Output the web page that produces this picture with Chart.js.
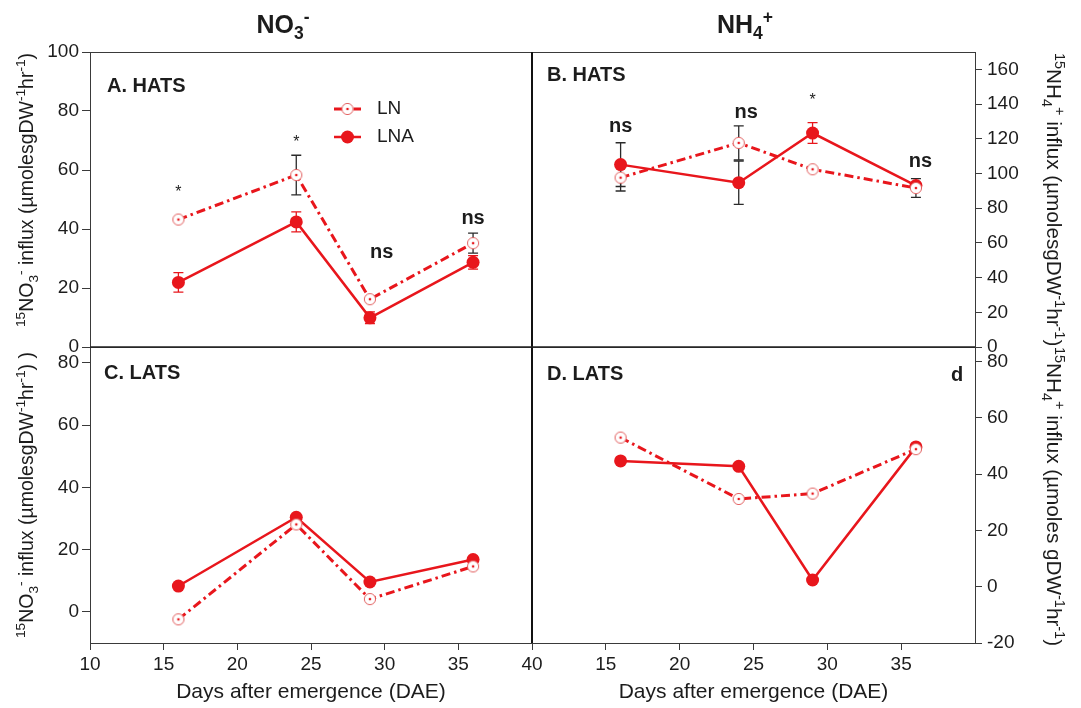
<!DOCTYPE html>
<html>
<head>
<meta charset="utf-8">
<script src="https://cdn.jsdelivr.net/npm/chart.js@4.4.1/dist/chart.umd.min.js"></script>
<style>
  body { margin: 0; background: #fff; }
  #wrap { position: relative; width: 1081px; height: 708px; }
  #wrap canvas { position: absolute; left: 0; top: 0; }
</style>
</head>
<body>
<div id="wrap">
  <canvas id="pA" width="1081" height="708"></canvas>
  <canvas id="pB" width="1081" height="708"></canvas>
  <canvas id="pC" width="1081" height="708"></canvas>
  <canvas id="pD" width="1081" height="708"></canvas>
</div>
<script>
// sampling days (DAE)
const days = [16, 24, 29, 36];

// A. HATS, NO3- influx
const hatsNo3LN = [43.2, 58.3, 16.2, 35.2];
const hatsNo3LNA = [21.9, 42.4, 9.9, 28.7];
const hatsNo3LNErr = [0, 6.7, 0, 3.4];
const hatsNo3LNAErr = [3.3, 3.4, 2.0, 2.3];
const hatsNo3Sig = ['*', '*', 'ns', 'ns'];
const hatsNo3SigX = [16, 24, 29.8, 36];
const hatsNo3SigY = [52.3, 69.3, 32.2, 43.6];

// B. HATS, NH4+ influx
const hatsNh4LN = [97.6, 117.6, 102.4, 91.6];
const hatsNh4LNA = [105.1, 94.7, 123.3, 93.0];
const hatsNh4LNErr = [7.7, 9.8, 0, 5.4];
const hatsNh4LNAErr = [12.6, 12.5, 6.0, 0];
const hatsNh4Sig = ['ns', 'ns', '*', 'ns'];
const hatsNh4SigX = [16, 24.5, 29, 36.3];
const hatsNh4SigY = [127.2, 135.1, 142.2, 107];

// C. LATS, NO3- influx
const latsNo3LN = [-2.4, 28.1, 4.1, 14.6];
const latsNo3LNA = [8.3, 30.4, 9.6, 16.8];

// D. LATS, NH4+ influx
const latsNh4LN = [53.0, 31.2, 33.1, 48.9];
const latsNh4LNA = [44.7, 42.8, 2.4, 49.7];

// tick labels
const hatsNo3Ticks = [0, 20, 40, 60, 80, 100];
const hatsNh4Ticks = [0, 20, 40, 60, 80, 100, 120, 140, 160];
const latsNo3Ticks = [0, 20, 40, 60, 80];
const latsNh4Ticks = [-20, 0, 20, 40, 60, 80];
const dayTicksLeft = [10, 15, 20, 25, 30, 35, 40];
const dayTicksRight = [15, 20, 25, 30, 35];

const FONT = "'Liberation Sans', Arial, sans-serif";
const RED = '#e8161c';
const INK = '#1c1c1c';
const AXIS = '#3a3a3a';
Chart.defaults.font.family = FONT;
Chart.defaults.color = INK;

// open circle with a centre dot, used for LN
const lnMarker = document.createElement('canvas');
lnMarker.width = 14; lnMarker.height = 14;
(() => {
  const c = lnMarker.getContext('2d');
  c.beginPath(); c.arc(7, 7, 5.6, 0, Math.PI * 2);
  c.fillStyle = '#fff'; c.fill();
  c.lineWidth = 1; c.strokeStyle = '#e26262'; c.stroke();
  c.beginPath(); c.arc(7, 7, 1.3, 0, Math.PI * 2);
  c.fillStyle = RED; c.fill();
})();

function fontFor(kind, size, bold) {
  const s = kind ? size * 0.7 : size;
  return (bold ? 'bold ' : '') + s + 'px ' + FONT;
}

// text with super/subscripts; parts = [[text, ''|'sup'|'sub'], ...]
function rich(ctx, parts, x, y, size, bold, align) {
  const widths = parts.map(([t, k]) => { ctx.font = fontFor(k, size, bold); return ctx.measureText(t).width; });
  const total = widths.reduce((a, b) => a + b, 0);
  let cx = align === 'center' ? x - total / 2 : x;
  ctx.textAlign = 'left';
  ctx.textBaseline = 'alphabetic';
  parts.forEach(([t, k], i) => {
    ctx.font = fontFor(k, size, bold);
    const dy = k === 'sup' ? -size * 0.4 : k === 'sub' ? size * 0.25 : 0;
    ctx.fillText(t, cx, y + dy);
    cx += widths[i];
  });
}

function richRotated(ctx, parts, x, y, angle, size) {
  ctx.save();
  ctx.translate(x, y);
  ctx.rotate(angle);
  ctx.fillStyle = INK;
  rich(ctx, parts, 0, 0, size, false, 'left');
  ctx.restore();
}

function label(ctx, text, x, y, font, align) {
  ctx.font = font;
  ctx.fillStyle = INK;
  ctx.textAlign = align || 'left';
  ctx.textBaseline = 'middle';
  ctx.fillText(text, x, y);
}

const no3Title = [['15', 'sup'], ['NO', ''], ['3', 'sub'], ['-', 'sup'], [' influx (µmolesgDW', ''], ['-1', 'sup'], ['hr', ''], ['-1', 'sup'], [')', '']];
const nh4TitleTop = [['15', 'sup'], ['NH', ''], ['4', 'sub'], ['+', 'sup'], [' influx (µmolesgDW', ''], ['-1', 'sup'], ['hr', ''], ['-1', 'sup'], [')', '']];
const nh4TitleBottom = [['15', 'sup'], ['NH', ''], ['4', 'sub'], ['+', 'sup'], [' influx (µmoles gDW', ''], ['-1', 'sup'], ['hr', ''], ['-1', 'sup'], [')', '']];

const panelPlugin = {
  id: 'panel',
  beforeDatasetsDraw(chart, args, o) {
    const { ctx, scales: { x, y } } = chart;
    ctx.save();
    ctx.lineWidth = 1.3;
    (o.errors || []).forEach(e => {
      days.forEach((d, i) => {
        if (!e.err[i]) return;
        const px = x.getPixelForValue(d);
        const top = y.getPixelForValue(e.values[i] + e.err[i]);
        const bot = y.getPixelForValue(e.values[i] - e.err[i]);
        ctx.strokeStyle = Array.isArray(e.color) ? e.color[i] : e.color;
        ctx.beginPath();
        ctx.moveTo(px, top); ctx.lineTo(px, bot);
        ctx.moveTo(px - 5, top); ctx.lineTo(px + 5, top);
        ctx.moveTo(px - 5, bot); ctx.lineTo(px + 5, bot);
        ctx.stroke();
      });
    });
    ctx.restore();
  },
  afterDraw(chart, args, o) {
    const { ctx, chartArea: a, scales: { x, y } } = chart;
    ctx.save();
    ctx.strokeStyle = AXIS;
    ctx.lineWidth = 1;
    ctx.strokeRect(a.left + 0.5, a.top + 0.5, a.right - a.left, a.bottom - a.top);
    if (o.sig) {
      o.sig.forEach((s, i) => {
        const px = x.getPixelForValue(o.sigX[i]);
        const py = y.getPixelForValue(o.sigY[i]);
        label(ctx, s, px, py, s === '*' ? '16px ' + FONT : 'bold 20px ' + FONT, 'center');
      });
    }
    label(ctx, o.name, o.nameX, o.nameY, 'bold 20px ' + FONT);
    if (o.extra) o.extra(ctx, chart);
    ctx.restore();
  }
};

function lnSet(values) {
  return {
    label: 'LN', data: days.map((d, i) => ({ x: d, y: values[i] })),
    borderColor: RED, borderWidth: 3, borderDash: [9, 4, 2.5, 4],
    pointStyle: lnMarker, pointRadius: 6, tension: 0
  };
}
function lnaSet(values) {
  return {
    label: 'LNA', data: days.map((d, i) => ({ x: d, y: values[i] })),
    borderColor: RED, borderWidth: 2.5,
    pointStyle: 'circle', pointRadius: 6.5, pointBackgroundColor: RED, pointBorderColor: RED, pointBorderWidth: 0,
    tension: 0
  };
}

function panel(id, p) {
  const left = p.side === 'left';
  return new Chart(document.getElementById(id), {
    type: 'line',
    data: { datasets: [lnSet(p.ln), lnaSet(p.lna)] },
    options: {
      responsive: false, animation: false, events: [],
      layout: { padding: p.pad },
      plugins: { legend: { display: false }, tooltip: { enabled: false }, panel: p.opts },
      scales: {
        x: {
          type: 'linear', min: 10, max: 40, display: !!p.xTicks,
          afterBuildTicks: s => { s.ticks = (p.xTicks || dayTicksLeft).map(v => ({ value: v })); },
          afterFit: s => { s.height = p.xTicks ? 65 : 0; },
          grid: { drawOnChartArea: false, drawTicks: true, tickLength: 7, color: AXIS },
          border: { color: AXIS, width: 1 },
          ticks: { color: INK, font: { size: 19 }, padding: 3 },
          title: { display: true, text: 'Days after emergence (DAE)', color: INK, font: { size: 21 }, padding: { top: 0, bottom: 3 } }
        },
        y: {
          type: 'linear', position: p.side, min: p.min, max: p.max,
          afterBuildTicks: s => { s.ticks = p.yTicks.map(v => ({ value: v })); },
          afterFit: s => { s.width = left ? 90 : 106; },
          grid: { drawOnChartArea: false, drawTicks: true, tickLength: left ? 8 : 7, color: AXIS },
          border: { color: AXIS, width: 1 },
          ticks: { color: INK, font: { size: 19 }, padding: left ? 3 : 5 }
        }
      }
    },
    plugins: [panelPlugin]
  });
}

const BLACK = '#2a2a2a';

panel('pA', {
  side: 'left', min: 0, max: 100, yTicks: hatsNo3Ticks,
  ln: hatsNo3LN, lna: hatsNo3LNA,
  pad: { left: 0, top: 52, right: 549, bottom: 361 },
  opts: {
    errors: [
      { values: hatsNo3LN, err: hatsNo3LNErr, color: BLACK },
      { values: hatsNo3LNA, err: hatsNo3LNAErr, color: RED }
    ],
    sig: hatsNo3Sig, sigX: hatsNo3SigX, sigY: hatsNo3SigY,
    name: 'A. HATS', nameX: 107, nameY: 86,
    extra(ctx) {
      ctx.fillStyle = INK;
      rich(ctx, [['NO', ''], ['3', 'sub'], ['-', 'sup']], 283, 33, 25, true, 'center');
      richRotated(ctx, no3Title, 33, 327, -Math.PI / 2, 19.5);
      // legend
      ctx.strokeStyle = RED;
      ctx.lineWidth = 3;
      ctx.setLineDash([9, 4, 2.5, 4]);
      ctx.beginPath(); ctx.moveTo(334, 109); ctx.lineTo(361, 109); ctx.stroke();
      ctx.setLineDash([]);
      ctx.drawImage(lnMarker, 347.5 - 7, 109 - 7);
      ctx.lineWidth = 2.5;
      ctx.beginPath(); ctx.moveTo(334, 137); ctx.lineTo(361, 137); ctx.stroke();
      ctx.fillStyle = RED;
      ctx.beginPath(); ctx.arc(347.5, 137, 6.5, 0, Math.PI * 2); ctx.fill();
      label(ctx, 'LN', 377, 109, '19px ' + FONT);
      label(ctx, 'LNA', 377, 137, '19px ' + FONT);
    }
  }
});

panel('pB', {
  side: 'right', min: 0, max: 170, yTicks: hatsNh4Ticks,
  ln: hatsNh4LN, lna: hatsNh4LNA,
  pad: { left: 532, top: 52, right: 0, bottom: 361 },
  opts: {
    errors: [
      { values: hatsNh4LN, err: hatsNh4LNErr, color: BLACK },
      { values: hatsNh4LNA, err: hatsNh4LNAErr, color: [BLACK, BLACK, RED, RED] }
    ],
    sig: hatsNh4Sig, sigX: hatsNh4SigX, sigY: hatsNh4SigY,
    name: 'B. HATS', nameX: 547, nameY: 75,
    extra(ctx) {
      ctx.fillStyle = INK;
      rich(ctx, [['NH', ''], ['4', 'sub'], ['+', 'sup']], 745, 33, 25, true, 'center');
      richRotated(ctx, nh4TitleTop, 1047, 53, Math.PI / 2, 20.7);
    }
  }
});

panel('pC', {
  side: 'left', min: -10, max: 85.1, yTicks: latsNo3Ticks, xTicks: dayTicksLeft,
  ln: latsNo3LN, lna: latsNo3LNA,
  pad: { left: 0, top: 347, right: 549, bottom: 0 },
  opts: {
    name: 'C. LATS', nameX: 104, nameY: 373,
    extra(ctx) {
      richRotated(ctx, no3Title.concat([[' )', '']]), 33, 638, -Math.PI / 2, 19.5);
    }
  }
});

panel('pD', {
  side: 'right', min: -20, max: 85.2, yTicks: latsNh4Ticks, xTicks: dayTicksRight,
  ln: latsNh4LN, lna: latsNh4LNA,
  pad: { left: 532, top: 347, right: 0, bottom: 0 },
  opts: {
    name: 'D. LATS', nameX: 547, nameY: 374,
    extra(ctx) {
      label(ctx, 'd', 957, 375, 'bold 20px ' + FONT, 'center');
      richRotated(ctx, nh4TitleBottom, 1047, 347, Math.PI / 2, 20.7);
      // heavier dividers between the four panels
      ctx.strokeStyle = '#111';
      ctx.lineWidth = 2;
      ctx.beginPath(); ctx.moveTo(532, 52); ctx.lineTo(532, 643); ctx.stroke();
      ctx.lineWidth = 1.5;
      ctx.strokeStyle = '#222';
      ctx.beginPath(); ctx.moveTo(90, 347); ctx.lineTo(975, 347); ctx.stroke();
    }
  }
});
</script>
</body>
</html>
